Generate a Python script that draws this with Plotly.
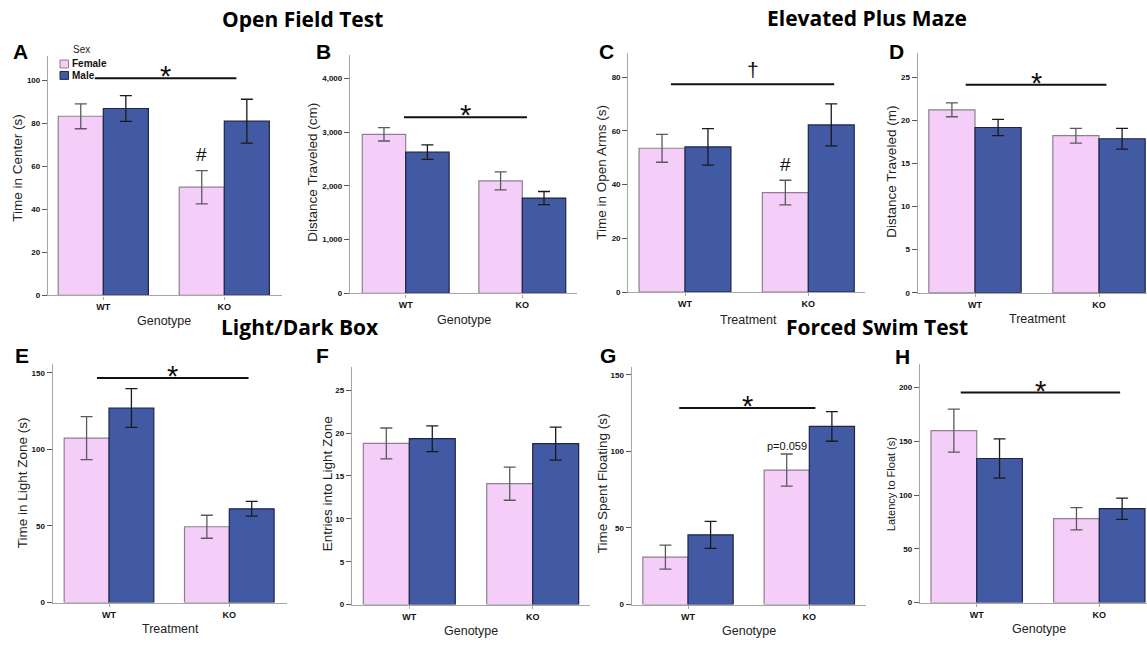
import plotly.graph_objects as go

W, H = 1147, 645

# ---------------- data ----------------
categories = ["WT", "KO"]

# A  Open field: time in center (s)
A_female = [83.3, 50.3]
A_female_err = [5.8, 7.7]
A_male = [86.9, 81.0]
A_male_err = [6.0, 10.2]

# B  Open field: distance traveled (cm)
B_female = [2960, 2093]
B_female_err = [125, 167]
B_male = [2628, 1773]
B_male_err = [135, 123]

# C  EPM: time in open arms (s)
C_female = [53.5, 37.0]
C_female_err = [5.2, 4.6]
C_male = [54.0, 62.2]
C_male_err = [6.8, 7.8]

# D  EPM: distance traveled (m)
D_female = [21.2, 18.2]
D_female_err = [0.8, 0.85]
D_male = [19.15, 17.85]
D_male_err = [0.95, 1.2]

# E  Light/dark: time in light zone (s)
E_female = [107.3, 49.5]
E_female_err = [14.0, 7.5]
E_male = [127.0, 61.2]
E_male_err = [12.6, 4.8]

# F  Light/dark: entries into light zone
F_female = [18.8, 14.1]
F_female_err = [1.8, 1.93]
F_male = [19.35, 18.77]
F_male_err = [1.5, 1.93]

# G  FST: time spent floating (s)
G_female = [31.0, 87.8]
G_female_err = [7.8, 10.5]
G_male = [45.5, 116.3]
G_male_err = [8.8, 9.7]

# H  FST: latency to float (s)
H_female = [160.0, 78.0]
H_female_err = [20.0, 10.3]
H_male = [134.0, 87.3]
H_male_err = [18.3, 9.9]

y_titles = ["Time in Center (s)", "Distance Traveled (cm)", "Time in Open Arms (s)",
            "Distance Traveled (m)", "Time in Light Zone (s)", "Entries into Light Zone",
            "Time Spent Floating (s)", "Latency to Float (s)"]
x_titles = ["Genotype", "Genotype", "Treatment", "Treatment",
            "Treatment", "Genotype", "Genotype", "Genotype"]
letters = ["A", "B", "C", "D", "E", "F", "G", "H"]
y_ticks = [[0, 20, 40, 60, 80, 100], [0, 1000, 2000, 3000, 4000], [0, 20, 40, 60, 80],
           [0, 5, 10, 15, 20, 25], [0, 50, 100, 150], [0, 5, 10, 15, 20, 25],
           [0, 50, 100, 150], [0, 50, 100, 150, 200]]
y_max = [111.2, 4443, 89.0, 27.8, 155.8, 27.7, 155.0, 222.0]

# significance bars: (panel index, x from, x to, y value, symbol)
sig_bars = [(0, -0.07, 1.10, 101, "*"), (1, -0.015, 1.04, 3275, "*"),
            (2, -0.114, 1.21, 77.3, "†"), (3, -0.075, 1.06, 24.1, "*"),
            (4, -0.10, 1.16, 146.5, "*"), (6, -0.072, 1.05, 128.4, "*"),
            (7, -0.13, 1.17, 195.3, "*")]

# ---------------- layout geometry (pixels) ----------------
# left, right, top, bottom of each plot area, WT centre, KO centre
geom = [
    (48, 282, 56.7, 297.7, 103.3, 224.3),
    (350, 577, 55, 295.7, 405.7, 522.3),
    (628.3, 865, 53.3, 294.3, 685, 808.3),
    (917.7, 1147, 53.3, 295, 975, 1099),
    (52.7, 287, 366.7, 607.3, 109, 229.3),
    (352, 590, 370, 609.3, 409.3, 532.7),
    (631.7, 866, 370, 609.3, 688, 809.3),
    (920, 1147, 366.7, 607.3, 976.7, 1099.3),
]
ytitle_pos = [(18, 169), (313, 174), (602, 174), (892, 173),
              (22, 487), (327, 488), (602, 487), (891, 488)]
ytitle_size = [13.5, 13.5, 13.5, 13.5, 13.5, 13.5, 13.5, 11]
xtitle_pos = [(164, 324), (464, 322), (748, 322), (1037, 321),
              (170, 634), (471, 636), (749, 636), (1039, 634)]
letter_pos = [(20, 52), (323, 52), (606, 52), (896, 52),
              (22, 358), (322, 358), (608, 358), (902, 359)]

FEM = "#F4CEF8"
FEM_LINE = "#8E7F8F"
MAL = "#4259A3"
MAL_LINE = "#1E2448"
AX = "#a6a6a6"
TXT = "#222222"
BODY = "Liberation Sans"
HEAD = "Open Sans"

female = [A_female, B_female, C_female, D_female, E_female, F_female, G_female, H_female]
female_err = [A_female_err, B_female_err, C_female_err, D_female_err,
              E_female_err, F_female_err, G_female_err, H_female_err]
male = [A_male, B_male, C_male, D_male, E_male, F_male, G_male, H_male]
male_err = [A_male_err, B_male_err, C_male_err, D_male_err,
            E_male_err, F_male_err, G_male_err, H_male_err]

BARGAP = 0.255


def px(x):
    return x / W


def py(y):
    return 1 - y / H


fig = go.Figure()
annotations = []
shapes = []
layout = {}

for i in range(8):
    n = i + 1
    xa = "x" if n == 1 else f"x{n}"
    ya = "y" if n == 1 else f"y{n}"
    xkey = "xaxis" if n == 1 else f"xaxis{n}"
    ykey = "yaxis" if n == 1 else f"yaxis{n}"
    left, right, top, bottom, wt, ko = geom[i]
    unit = ko - wt
    xr = [(left - wt) / unit, 1 + (right - ko) / unit]

    fig.add_trace(go.Bar(
        x=categories, y=female[i], name="Female", showlegend=False,
        marker=dict(color=FEM, line=dict(color=FEM_LINE, width=1.2)),
        error_y=dict(type="data", array=female_err[i], color="#5a5a5a",
                     thickness=1.3, width=6),
        xaxis=xa, yaxis=ya))
    fig.add_trace(go.Bar(
        x=categories, y=male[i], name="Male", showlegend=False,
        marker=dict(color=MAL, line=dict(color=MAL_LINE, width=1.2)),
        error_y=dict(type="data", array=male_err[i], color="#1a1a1a",
                     thickness=1.3, width=6),
        xaxis=xa, yaxis=ya))

    layout[xkey] = dict(
        domain=[px(left), px(right)], range=xr, type="category", anchor=ya,
        showline=True, linecolor=AX, linewidth=1.3, ticks="outside", ticklen=3,
        tickcolor=AX, showgrid=False, zeroline=False, fixedrange=True,
        tickfont=dict(family=BODY, size=9, color="#111", weight="bold"))
    ticktext = [f"{v:,}" for v in y_ticks[i]]
    layout[ykey] = dict(
        domain=[py(bottom), py(top)], range=[0, y_max[i]], anchor=xa,
        showline=True, linecolor=AX, linewidth=1.3, ticks="outside", ticklen=5,
        tickcolor="#555", tickvals=y_ticks[i], ticktext=ticktext,
        showgrid=False, zeroline=False, fixedrange=True,
        tickfont=dict(family=BODY, size=8, color="#111", weight="bold"))

    # axis titles
    tx, ty = ytitle_pos[i]
    annotations.append(dict(text=y_titles[i], x=px(tx), y=py(ty), xref="paper", yref="paper",
                            textangle=-90, showarrow=False, xanchor="center", yanchor="middle",
                            font=dict(family=BODY, size=ytitle_size[i], color=TXT)))
    tx, ty = xtitle_pos[i]
    annotations.append(dict(text=x_titles[i], x=px(tx), y=py(ty), xref="paper", yref="paper",
                            showarrow=False, xanchor="center", yanchor="middle",
                            font=dict(family=BODY, size=12.5, color=TXT)))
    lx, ly = letter_pos[i]
    annotations.append(dict(text=letters[i], x=px(lx), y=py(ly), xref="paper", yref="paper",
                            showarrow=False, xanchor="center", yanchor="middle",
                            font=dict(family=BODY, size=21, color="#000", weight="bold")))

# significance bars
for (i, x0, x1, yv, sym) in sig_bars:
    n = i + 1
    xa = "x" if n == 1 else f"x{n}"
    ya = "y" if n == 1 else f"y{n}"
    shapes.append(dict(type="line", xref=xa, yref=ya, x0=x0, x1=x1, y0=yv, y1=yv,
                       line=dict(color="#111", width=2)))
    if sym == "*":
        annotations.append(dict(text="*", xref=xa, yref=ya, x=(x0 + x1) / 2, y=yv,
                                showarrow=False, xanchor="center", yanchor="middle", yshift=2,
                                font=dict(family=BODY, size=29, color="#111")))
    else:
        annotations.append(dict(text=sym, xref=xa, yref=ya, x=(x0 + x1) / 2, y=yv,
                                showarrow=False, xanchor="center", yanchor="middle", yshift=15,
                                font=dict(family=BODY, size=21, color="#111")))

# female-bar markers (#, p-value) above the KO female error bar
half = (1 - BARGAP) / 4
fem_ko_x = 1 - half
annotations.append(dict(text="#", xref="x", yref="y", x=fem_ko_x,
                        y=A_female[1] + A_female_err[1], yshift=16, showarrow=False,
                        xanchor="center", yanchor="middle",
                        font=dict(family=BODY, size=19, color="#111")))
annotations.append(dict(text="#", xref="x3", yref="y3", x=fem_ko_x,
                        y=C_female[1] + C_female_err[1], yshift=16, showarrow=False,
                        xanchor="center", yanchor="middle",
                        font=dict(family=BODY, size=19, color="#111")))
annotations.append(dict(text="p=0.059", xref="x7", yref="y7", x=fem_ko_x,
                        y=G_female[1] + G_female_err[1], yshift=8, showarrow=False,
                        xanchor="center", yanchor="middle",
                        font=dict(family=BODY, size=11, color="#111")))

# section titles
for text, (tx, ty) in [("Open Field Test", (302, 19)), ("Elevated Plus Maze", (867, 18)),
                       ("Light/Dark Box", (300, 330)), ("Forced Swim Test", (877, 330))]:
    annotations.append(dict(text=text, x=px(tx), y=py(ty), xref="paper", yref="paper",
                            showarrow=False, xanchor="center", yanchor="middle",
                            font=dict(family=HEAD, size=21, color="#000", weight="bold")))

# legend (panel A)
annotations.append(dict(text="Sex", x=px(81), y=py(50), xref="paper", yref="paper",
                        showarrow=False, xanchor="center", yanchor="middle",
                        font=dict(family=BODY, size=10, color=TXT)))
for name, fill, edge, yc in [("Female", FEM, FEM_LINE, 64.5), ("Male", MAL, MAL_LINE, 76)]:
    shapes.append(dict(type="rect", xref="paper", yref="paper",
                       x0=px(60), x1=px(68.5), y0=py(yc - 4), y1=py(yc + 4),
                       fillcolor=fill, line=dict(color=edge, width=1)))
    annotations.append(dict(text=name, x=px(70), y=py(yc), xref="paper", yref="paper",
                            showarrow=False, xanchor="left", yanchor="middle",
                            font=dict(family=BODY, size=10, color="#111", weight="bold")))

fig.update_layout(
    width=W, height=H, margin=dict(l=0, r=0, t=0, b=0),
    paper_bgcolor="white", plot_bgcolor="white",
    barmode="group", bargap=BARGAP, bargroupgap=0,
    showlegend=False, annotations=annotations, shapes=shapes,
    **layout)

fig.write_html("out.html", post_script="document.body.style.margin='0';",
               config={"displayModeBar": False})
